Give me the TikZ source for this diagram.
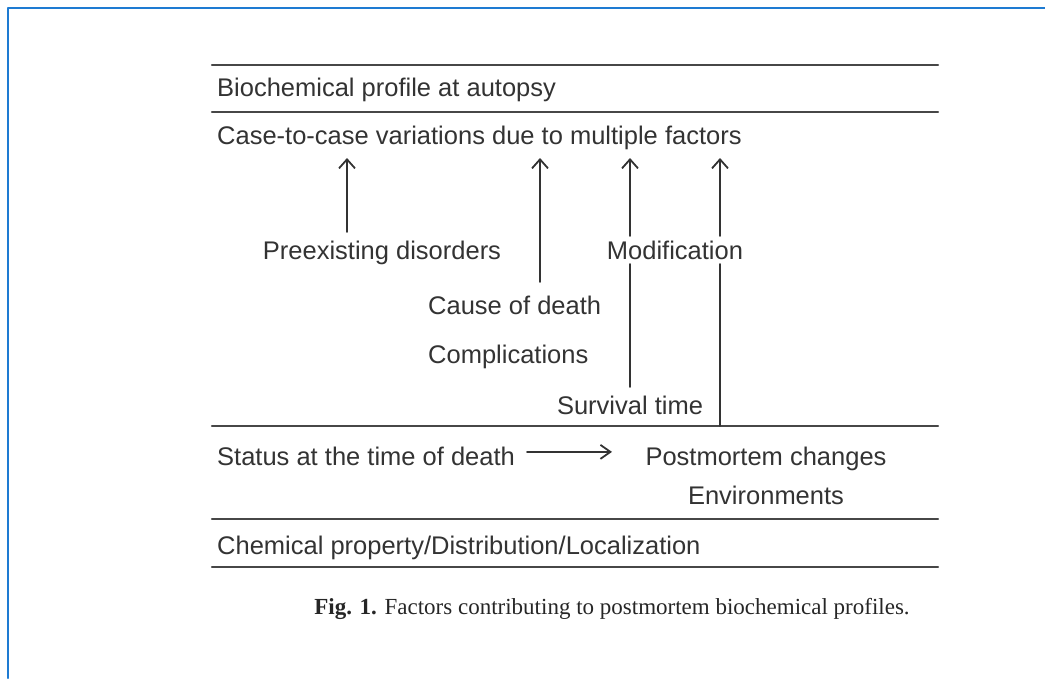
\documentclass[tikz,border=0pt]{standalone}
\usepackage{fontspec}
\setmainfont{Liberation Serif}
\setsansfont{Liberation Sans}
\usetikzlibrary{arrows.meta}
\definecolor{frameblue}{HTML}{1E7BD2}
\definecolor{inkgray}{HTML}{333333}
\tikzset{
    lab/.style={
        font=\sffamily\fontsize{25.5}{30}\selectfont, text=inkgray, inner sep=0pt
    },
    rule/.style={line width=2.2pt, draw=inkgray!90},
    up/.style={line width=1.8pt, draw=inkgray, -{Straight Barb[length=9pt,width=16pt]}},
    stem/.style={line width=1.8pt, draw=inkgray}
}

\begin{document}
\begin{tikzpicture}[x=1pt,y=-1pt, line cap=round, line join=round]
\useasboundingbox (0,0) rectangle (1045,678);

% frame of the page
\draw[frameblue, line width=2.2pt] (1045,8) -- (8,8) -- (8,678);

\foreach \y in {65,112,426,519,567} {
  \draw[rule] (212,\y) -- (938,\y);
}

% bands
\node[lab, anchor=base west] (autopsy) at (217,96) {Biochemical profile at autopsy};
\node[lab, anchor=base west] (casevar) at (217,144) {Case-to-case variations due to multiple factors};
\node[lab, anchor=base west] (status) at (217,465) {Status at the time of death};
\node[lab, anchor=base] (pmchange) at (766,465) {Postmortem changes};
\node[lab, anchor=base] (environ) at (766,504) {Environments};
\node[lab, anchor=base west] (chemprop) at (217,554) {Chemical property/Distribution/Localization};

% factors
\node[lab, anchor=base] (preexist) at (382,259) {Preexisting disorders};
\node[lab, anchor=base] (modif) at (675,259) {Modification};
\node[lab, anchor=base west] (cause) at (428,314) {Cause of death};
\node[lab, anchor=base west] (compl) at (428,363) {Complications};
\node[lab, anchor=base] (survival) at (630,414) {Survival time};

\def\yT{158}
\coordinate (p1) at (347,232);
\coordinate (p2) at (540,282);
\coordinate (p3) at (630,236);
\coordinate (p4) at (720,236);
\coordinate (q3) at (630,264);
\coordinate (q4) at (720,264);

\foreach \c in {p1,p2,p3,p4} {
  \draw[up] (\c) -- (\c |- 0,\yT);
}
\draw[stem] (q3) -- (q3 |- 0,387);
\draw[stem] (q4) -- (q4 |- 0,426);

\draw[line width=1.8pt, draw=inkgray, -{Straight Barb[length=10pt,width=14pt]}]
  (status.east) ++(12,-4) coordinate (h1) -- (612,461 |- h1) coordinate (h2);

% caption
\node[font=\fontsize{23}{28}\selectfont, text=black!85, anchor=base] (caption) at (612,614)
  {\textbf{Fig. 1.} Factors contributing to postmortem biochemical profiles.};

\end{tikzpicture}
\end{document}
